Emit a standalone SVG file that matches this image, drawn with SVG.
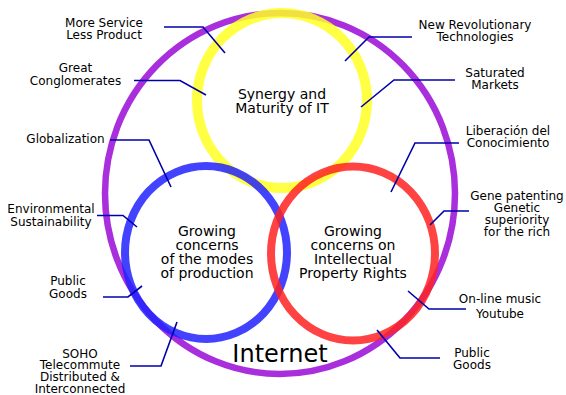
<svg xmlns="http://www.w3.org/2000/svg" width="566" height="395" viewBox="0 0 566 395">
<style>
.ring{fill:none;stroke-opacity:0.85}
.lbl{font-family:"DejaVu Sans",sans-serif;font-size:12px;fill:#000;text-anchor:middle}
.ctr{font-family:"DejaVu Sans",sans-serif;font-size:14px;fill:#000;text-anchor:middle}
.con{fill:none;stroke:#0000aa;stroke-width:1.6}
</style>
<rect width="566" height="395" fill="#fff"/>
<g id="internet">
<ellipse class="ring" cx="280" cy="193.5" rx="175" ry="180.5" stroke="#9a0ad6" stroke-width="6.5"/>
<text x="280" y="362" font-family="DejaVu Sans,sans-serif" font-size="24" text-anchor="middle">Internet</text>
</g>
<g id="synergy">
<ellipse class="ring" cx="282" cy="100.5" rx="85" ry="87.5" stroke="#ffff22" stroke-width="10"/>
<text class="ctr" x="282" y="98.5">Synergy and</text>
<text class="ctr" x="282" y="112.5">Maturity of IT</text>
</g>
<g id="production">
<ellipse class="ring" cx="206" cy="252.5" rx="81" ry="86.5" stroke="#2222ff" stroke-width="8"/>
<text class="ctr" x="207" y="235.5">Growing</text>
<text class="ctr" x="207" y="249.5">concerns</text>
<text class="ctr" x="207" y="263.5">of the modes</text>
<text class="ctr" x="207" y="277.5">of production</text>
</g>
<g id="ip">
<ellipse class="ring" cx="353" cy="253.5" rx="82" ry="87" stroke="#ff2222" stroke-width="8"/>
<text class="ctr" x="353" y="235.5">Growing</text>
<text class="ctr" x="353" y="249.5">concerns on</text>
<text class="ctr" x="353" y="263.5">Intellectual</text>
<text class="ctr" x="353" y="277.5">Property Rights</text>
</g>
<g id="connectors">
<polyline class="con" points="164,27 203,27 225,53"/>
<polyline class="con" points="134,80.5 180,80.5 206,95"/>
<polyline class="con" points="110,140 149,140 171,187"/>
<polyline class="con" points="412,37 369,37 345,61"/>
<polyline class="con" points="455,80 394,80 361,107"/>
<polyline class="con" points="459,143 415,143 391,192"/>
<polyline class="con" points="97,215.5 123,215.5 137,227"/>
<polyline class="con" points="103,297 128,297 142,286"/>
<polyline class="con" points="130,366 161,366 177,322"/>
<polyline class="con" points="469,211 444,211 430,225"/>
<polyline class="con" points="466,309 429,309 408,291"/>
<polyline class="con" points="440,358 400,358 377,330"/>
</g>
<g id="l-more-service">
<text class="lbl" x="104" y="26.5">More Service</text>
<text class="lbl" x="104" y="39">Less Product</text>
</g>
<g id="l-conglomerates">
<text class="lbl" x="75.5" y="72">Great</text>
<text class="lbl" x="75.5" y="84.5">Conglomerates</text>
</g>
<g id="l-globalization">
<text class="lbl" x="65.5" y="143">Globalization</text>
</g>
<g id="l-new-tech">
<text class="lbl" x="475" y="29">New Revolutionary</text>
<text class="lbl" x="475" y="41">Technologies</text>
</g>
<g id="l-saturated">
<text class="lbl" x="495" y="77">Saturated</text>
<text class="lbl" x="495" y="89">Markets</text>
</g>
<g id="l-liberacion">
<text class="lbl" x="508" y="134.7">Liberación del</text>
<text class="lbl" x="508" y="147">Conocimiento</text>
</g>
<g id="l-gene">
<text class="lbl" x="517" y="200">Gene patenting</text>
<text class="lbl" x="517" y="212">Genetic</text>
<text class="lbl" x="517" y="224">superiority</text>
<text class="lbl" x="517" y="236">for the rich</text>
</g>
<g id="l-online">
<text class="lbl" x="500" y="303">On-line music</text>
<text class="lbl" x="500" y="318">Youtube</text>
</g>
<g id="l-public-right">
<text class="lbl" x="472" y="357">Public</text>
<text class="lbl" x="472" y="369">Goods</text>
</g>
<g id="l-environmental">
<text class="lbl" x="51" y="213">Environmental</text>
<text class="lbl" x="51" y="225.5">Sustainability</text>
</g>
<g id="l-public-left">
<text class="lbl" x="68" y="285">Public</text>
<text class="lbl" x="68" y="298">Goods</text>
</g>
<g id="l-soho">
<text class="lbl" x="80" y="357.5">SOHO</text>
<text class="lbl" x="80" y="369.3">Telecommute</text>
<text class="lbl" x="80" y="381">Distributed &amp;</text>
<text class="lbl" x="80" y="392.7">Interconnected</text>
</g>
</svg>
